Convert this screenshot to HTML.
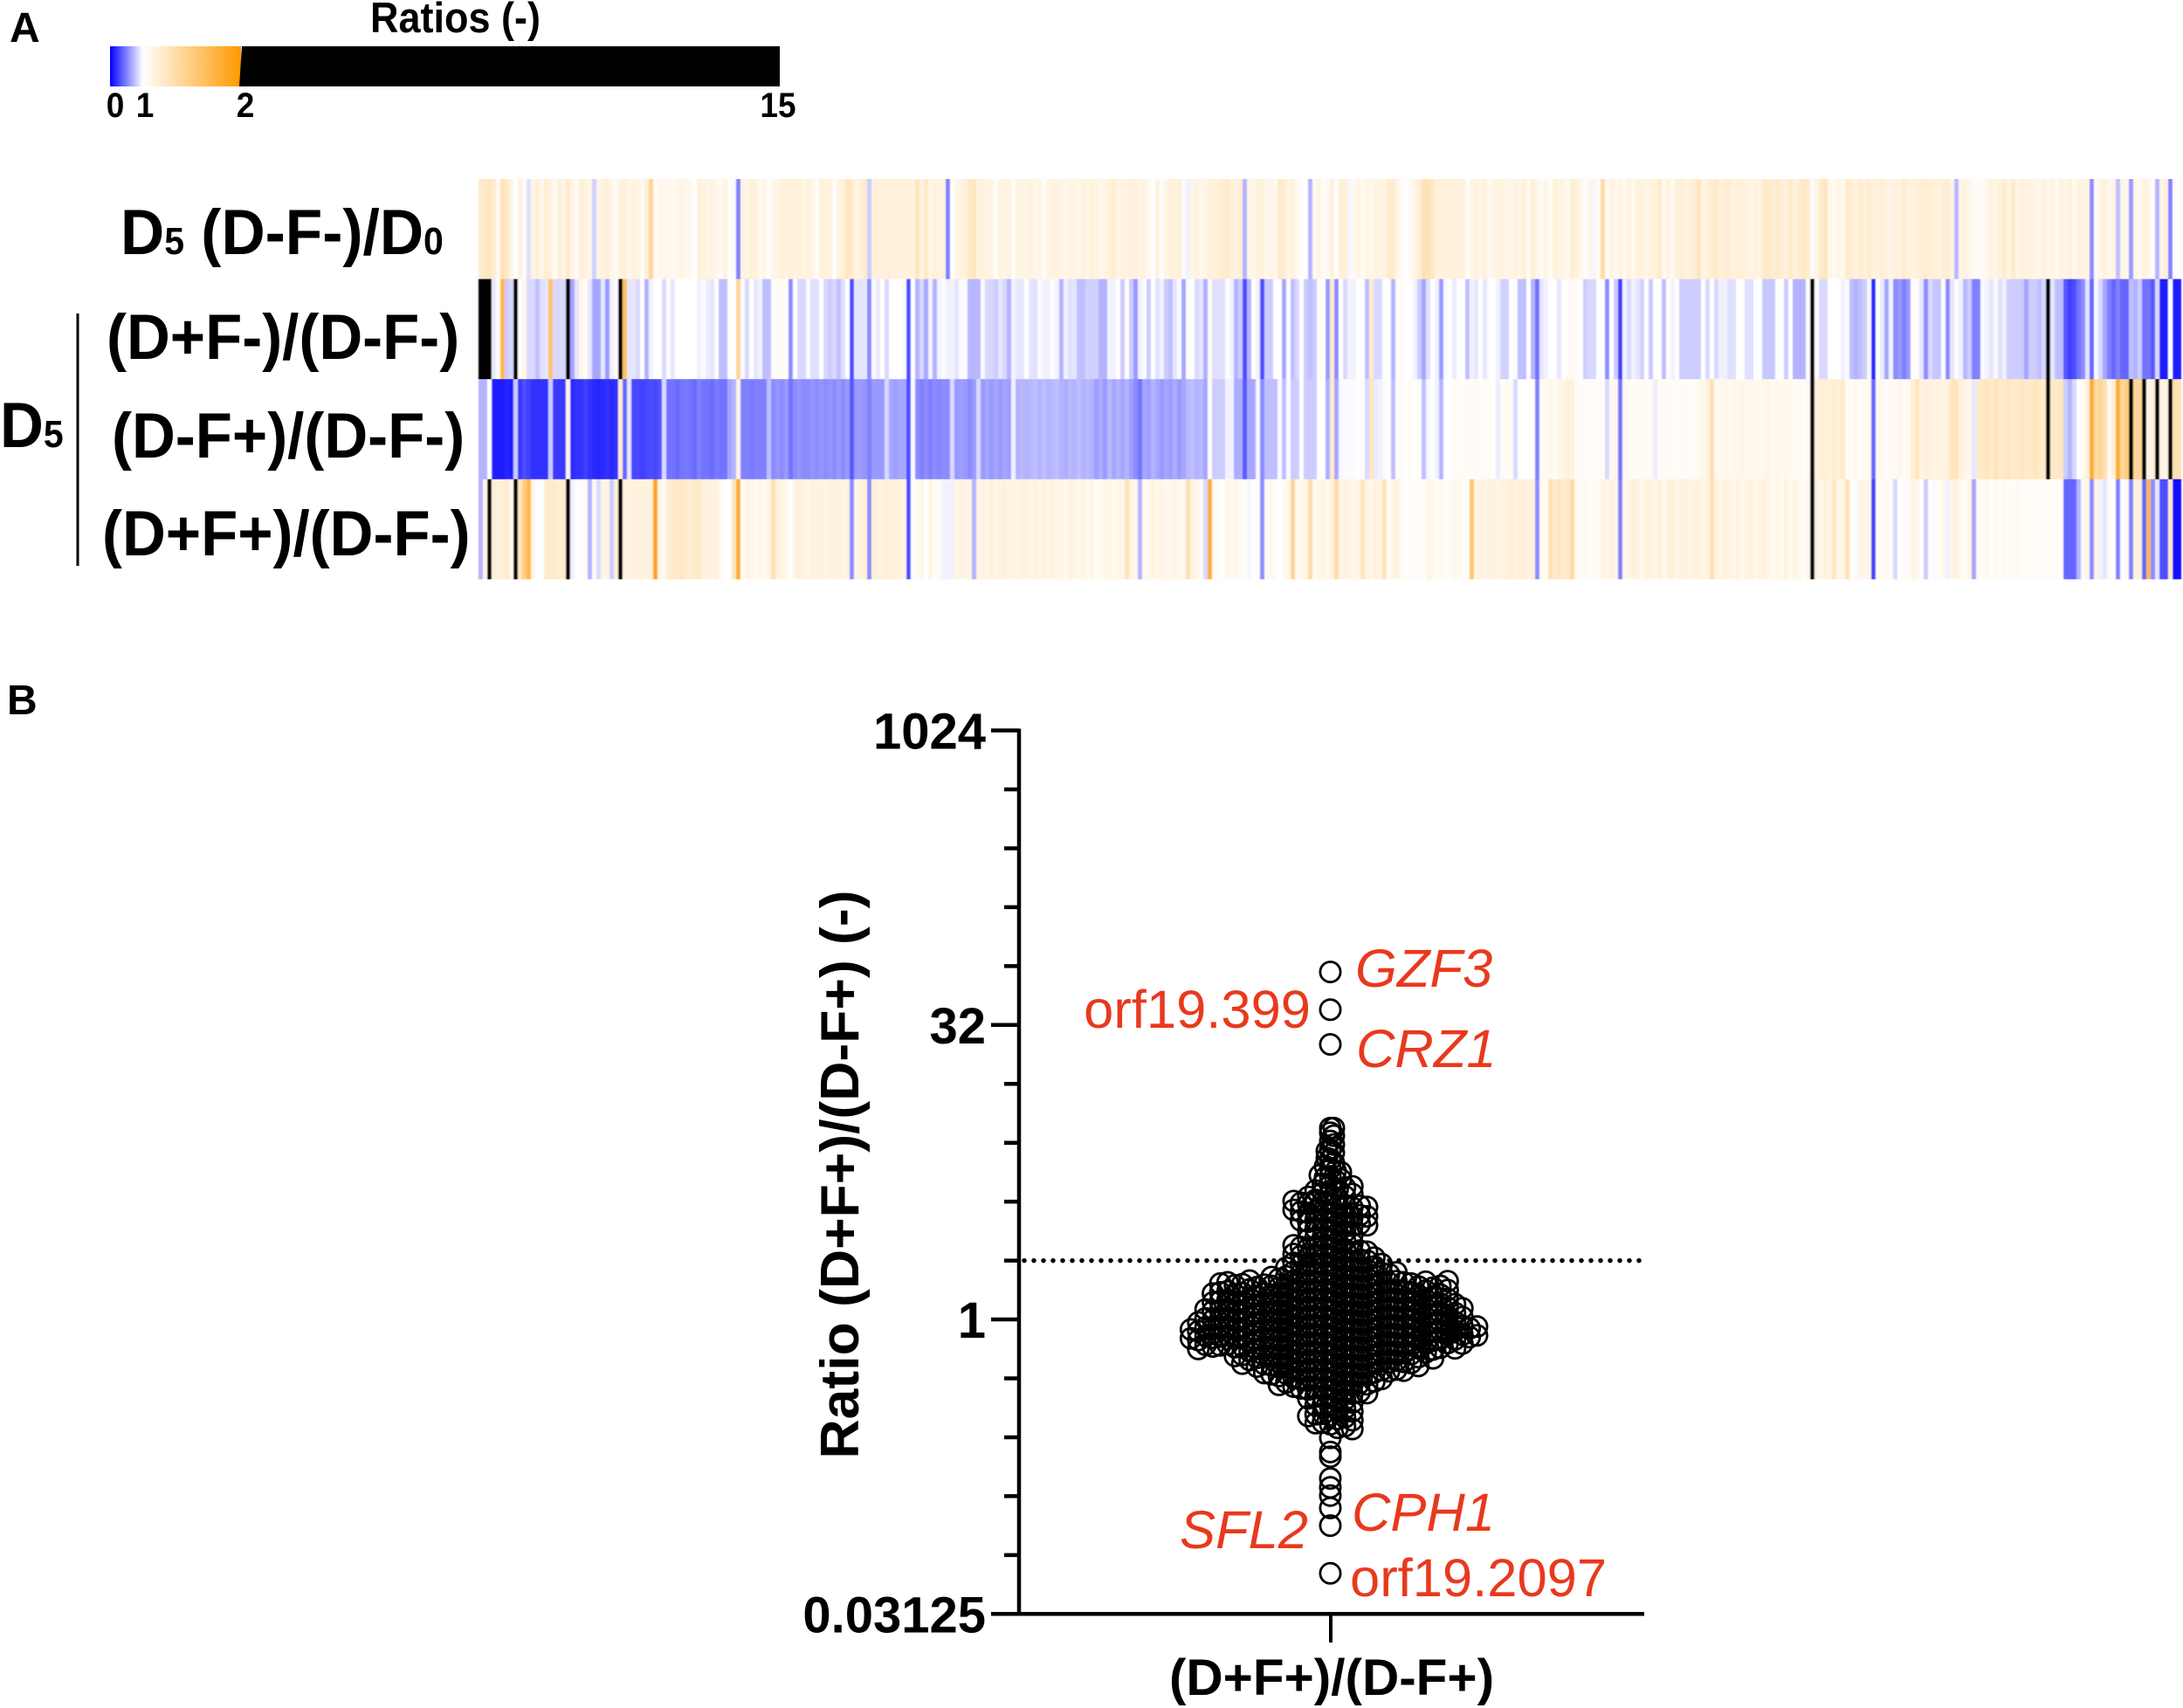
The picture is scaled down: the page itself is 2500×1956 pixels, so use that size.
<!DOCTYPE html>
<html lang="en">
<head>
<meta charset="utf-8">
<title>Heatmap and swarm plot of ratios</title>
<style>
html,body{margin:0;padding:0;background:#fff}
svg{display:block}
text{font-family:"Liberation Sans",Arial,sans-serif}
.b{font-weight:700;fill:#000}
.r{fill:#e8391d;font-size:61.5px}
.i{font-style:italic}
</style>
</head>
<body>
<svg id="figure" xmlns="http://www.w3.org/2000/svg" width="2500" height="1956" viewBox="0 0 2500 1956">
<defs>
<linearGradient id="scaleGradient" x1="0" x2="1" y1="0" y2="0">
<stop offset="0" stop-color="#0000ff"/><stop offset="0.25" stop-color="#ffffff"/><stop offset="1" stop-color="#ff9900"/>
</linearGradient>
<filter id="heatSoften" filterUnits="userSpaceOnUse" x="540" y="200" width="1965" height="470">
<feGaussianBlur stdDeviation="0.9 0"/>
</filter>
</defs>
<rect width="2500" height="1956" fill="#fff"/>

<text class="b" x="11" y="48" font-size="48">A</text>
<text class="b" x="8" y="818" font-size="48">B</text>

<text class="b" transform="translate(424 37) scale(1 1.1)" font-size="45">Ratios (-)</text>
<rect x="126" y="53" width="150" height="46" fill="url(#scaleGradient)"/>
<polygon points="277,53 893,53 893,99 274,99" fill="#000"/>
<g class="b" font-size="37" text-anchor="middle">
<text class="b" transform="translate(132 134) scale(1 1.08)">0</text>
<text class="b" transform="translate(166 134) scale(1 1.08)">1</text>
<text class="b" transform="translate(281 134) scale(1 1.08)">2</text>
<text class="b" transform="translate(891 134) scale(1 1.08)">15</text>
</g>

<g id="heatmap" filter="url(#heatSoften)"></g>

<text class="b" transform="translate(138 291) scale(1 1.06)" font-size="69.5">D<tspan font-size="41">5</tspan> (D-F-)/D<tspan font-size="41">0</tspan></text>
<text class="b" transform="translate(122 411) scale(1 1.06)" font-size="69">(D+F-)/(D-F-)</text>
<text class="b" transform="translate(128 524) scale(1 1.06)" font-size="69">(D-F+)/(D-F-)</text>
<text class="b" transform="translate(117 636) scale(1 1.06)" font-size="69">(D+F+)/(D-F-)</text>
<text class="b" transform="translate(0 512) scale(1 1.06)" font-size="69">D<tspan font-size="41">5</tspan></text>
<line x1="89" x2="89" y1="359" y2="648" stroke="#000" stroke-width="3"/>

<g id="swarmPlot"></g>

<text class="b" transform="translate(983,1345) rotate(-90)" text-anchor="middle" font-size="62.5">Ratio (D+F+)/(D-F+) (-)</text>
<text class="b" x="1525" y="1941" text-anchor="middle" font-size="58.5">(D+F+)/(D-F+)</text>

<text class="r i" x="1552" y="1130">GZF3</text>
<text class="r" x="1501" y="1177" text-anchor="end">orf19.399</text>
<text class="r i" x="1553" y="1222">CRZ1</text>
<text class="r i" x="1548" y="1753">CPH1</text>
<text class="r i" x="1351" y="1773">SFL2</text>
<text class="r" x="1546" y="1828">orf19.2097</text>
</svg>

<script>
// Heatmap values: ratio per gene column (values of 2 or more draw black)
const heatD5vsD0 = [
1.2,1.22,1.25,1.18,1.05,1.28,1.22,1.1,1.0,1.12,
1.02,.88,1.1,1.15,1.08,1.18,1.12,1.05,1.15,1.1,
1.2,1.1,1.05,1.15,1.12,1.1,.82,1.1,1.12,1.15,
1.08,1.05,1.12,1.15,1.1,1.12,1.1,1.05,1.15,1.4,
1.05,1.08,1.08,1.08,1.06,1.08,1.1,1.08,1.06,1.0,
1.15,1.12,1.1,1.12,1.08,1.05,1.12,1.02,.98,.5,
1.12,1.1,1.15,1.12,1.06,1.1,1.02,1.08,1.1,1.14,
1.12,1.14,1.12,1.14,1.1,1.14,1.1,1.02,1.14,1.12,
1.12,1.02,1.12,1.14,1.25,1.2,1.1,1.14,1.2,.8,
1.15,1.14,1.14,1.15,1.14,1.14,1.12,1.14,1.14,1.12,
1.25,1.12,1.22,1.1,1.14,1.12,1.12,.5,1.02,1.1,
1.12,1.14,1.22,1.25,1.12,1.14,1.1,1.1,1.02,1.12,
1.1,1.12,1.02,1.12,1.1,1.1,1.12,1.08,1.1,1.02,
1.1,1.12,1.12,1.1,1.08,1.1,1.1,1.08,1.12,1.1,
1.14,1.12,1.08,1.1,1.14,1.18,1.1,1.12,1.12,1.12,
1.14,1.1,1.12,1.06,1.0,1.12,1.02,1.1,1.14,1.12,
1.16,.98,.95,1.1,1.12,1.08,1.1,1.14,1.12,1.16,
1.18,1.2,1.14,1.12,1.16,.7,1.1,1.08,1.12,1.14,
1.08,1.1,1.06,1.22,1.18,1.1,1.14,1.06,1.02,1.0,
.7,1.06,1.1,1.04,1.06,1.14,1.02,1.16,1.16,.97,
1.06,1.1,1.06,1.1,1.08,1.12,1.1,1.1,1.2,1.18,
1.1,1.02,1.0,1.06,1.1,1.16,1.28,1.28,1.24,1.14,
1.14,1.12,1.14,1.14,1.12,1.14,1.02,1.1,1.12,1.1,
1.14,1.06,1.1,1.12,1.12,1.08,1.1,1.12,1.1,1.14,
1.06,1.18,1.08,1.05,1.1,1.02,1.14,1.12,1.1,1.06,
1.16,1.14,1.08,1.02,1.08,.96,1.05,1.35,1.06,1.12,
1.08,1.1,1.06,1.12,1.06,1.14,1.12,1.1,1.12,1.14,
1.2,1.06,1.12,1.05,1.14,1.16,1.12,1.14,1.18,1.25,
1.1,1.14,1.18,1.2,1.14,1.16,1.18,1.12,1.16,1.14,
1.12,1.1,1.12,1.1,1.2,1.22,1.18,1.2,1.16,1.14,
1.2,1.14,1.18,1.22,1.2,.98,1.1,1.2,1.25,1.08,
1.06,1.1,1.06,1.2,1.16,1.12,1.18,1.14,1.18,1.12,
1.14,1.16,1.12,1.1,1.14,1.12,1.18,1.14,1.12,1.14,
1.16,1.18,1.16,1.14,1.12,1.16,1.18,1.1,.72,1.1,
1.12,1.08,1.03,1.03,1.03,1.08,1.12,1.1,1.14,1.18,
1.1,1.2,1.1,1.14,1.12,1.12,1.1,1.08,1.12,1.08,
1.1,1.06,1.12,1.1,1.14,1.06,1.12,1.1,1.12,.55,
1.04,1.1,1.14,1.08,1.1,.75,1.1,1.08,.6,1.08,
1.06,1.12,1.1,1.02,.7,1.1,1.14,.5,1.02,1.02
];
const heatDpFm = [
5,5,5,.92,1.02,1.7,.8,.85,5,1.0,
1.1,.85,.85,.75,.88,.9,1.6,.85,.85,.85,
5,.65,.9,1.1,1.02,.9,.65,.65,.9,.6,
.95,.98,5,1.6,.9,.9,.85,1.0,.7,.95,
1.0,1.0,.85,1.0,.9,1.0,1.0,1.0,1.0,1.0,
.95,.98,.93,.9,1.0,.75,.75,1.0,1.0,1.4,
.98,.85,1.0,.9,.95,.75,.75,1.03,1.03,1.03,
1.03,.55,1.0,.85,.85,.98,.88,.88,1.0,.85,
.8,.85,.75,.88,1.0,.3,.9,.9,.9,.55,
.98,.92,1.0,.85,1.0,1.0,1.0,.98,.3,1.0,
.7,.85,.65,.95,.7,.95,.98,.95,.95,.9,
.98,.98,.72,.72,.72,.98,.85,.85,.8,.9,
.85,.7,.95,.9,.9,1.0,.9,.88,.98,.95,
.95,1.0,.95,.7,.95,.88,.9,.75,.75,.82,
.82,.82,.7,.7,.95,.95,1.0,.8,1.02,.8,
.6,.95,.98,.8,1.0,.88,.95,.8,.75,.9,
.98,.65,1.02,1.0,.85,.9,.68,1.05,.88,.88,
.88,1.0,.95,.7,.8,.3,.7,1.0,.95,.3,
.8,.8,1.0,1.0,.65,1.0,.75,.85,1.0,.8,
.75,.8,1.02,1.02,.6,1.2,.55,1.0,.85,.95,
.95,1.0,1.0,.75,1.2,.85,.85,1.0,1.0,.7,
1.02,1.02,1.0,1.0,.95,.8,.65,.88,1.0,.95,
.6,.98,1.0,.92,1.0,1.0,.75,.95,.9,1.0,
.9,1.0,1.0,.95,.82,.82,1.0,.98,.75,.75,
1.0,.7,.45,.9,.95,1.0,1.0,.9,1.0,1.03,
1.05,1.03,1.0,.8,.85,.85,1.0,1.0,.55,1.0,
.8,.25,.95,.85,.95,.9,.82,1.0,.8,1.0,
1.0,.75,1.0,.95,1.0,.8,.8,.8,.8,.8,
1.0,.85,1.0,.85,.95,.95,.88,.88,1.0,1.0,
.88,.88,1.0,1.0,.78,.78,.78,1.0,1.0,.8,
1.0,.7,.7,.7,1.0,5,1.0,.85,.85,1.0,
1.0,1.0,.95,.98,.75,.7,.75,.8,.98,.15,
1.0,.92,.65,.95,.55,.6,.5,.6,1.02,1.02,
.9,.55,.85,.78,.78,1.02,.55,.9,1.02,.95,
.72,.8,.5,.5,.98,.95,.9,.98,.88,.95,
.8,.8,.8,.8,.65,.8,.8,.75,.85,5,
.9,.75,.75,.35,.25,.3,.45,.55,.9,.4,
.98,.85,.65,.5,.4,.5,.4,.4,.75,.7,
.8,.45,.45,.35,.85,.1,.1,1.0,.1,.1
];
const heatDmFp = [
.7,.7,1.0,.1,.1,.1,.15,.1,.8,.22,
.3,.25,.2,.2,.2,.2,.8,.22,.22,.22,
1.1,.17,.2,.2,.25,.2,.17,.15,.17,.2,
.17,.2,1.2,.4,.9,.28,.28,.25,.28,.3,
.28,.32,.85,.45,.45,.42,.45,.47,.45,.42,
.5,.45,.45,.42,.47,.45,.45,.65,.7,1.1,
.5,.5,.48,.5,.5,.5,.75,.55,.58,.55,
.6,.45,.55,.58,.55,.55,.58,.55,.58,.55,
.58,.55,.6,.55,.6,.35,.6,.6,.58,.5,
.6,.6,.6,.85,.65,.62,.65,.65,.3,.98,
.55,.5,.55,.5,.55,.52,.55,.55,.85,.6,
.62,.6,.55,.6,.85,.6,.65,.6,.65,.6,
.65,.62,.95,.7,.72,.7,.72,.75,.7,.75,
.7,.72,.75,.7,.68,.72,.7,.75,.7,.72,
.7,.62,.68,.6,.72,.65,.7,.65,.7,.62,
.55,.45,.65,.62,.7,.65,.6,.65,.62,.68,
.6,.65,.72,.75,.7,.72,.65,1.03,.8,.8,
.8,.95,.95,.68,.68,.35,.65,.65,.97,.55,
.75,.75,.75,.98,.75,.98,.8,.8,1.0,.8,
.8,.8,1.0,1.0,.68,1.2,.65,.97,.98,.98,
.98,1.0,.98,.85,1.25,.92,.95,.98,1.0,.75,
1.02,1.02,1.0,1.03,1.0,1.03,.75,.97,1.0,.95,
.7,1.0,1.0,1.03,1.03,1.02,1.03,1.04,1.03,1.02,
1.03,1.04,1.0,.93,1.03,1.05,1.02,.85,1.0,1.0,
1.0,1.02,.5,1.05,1.06,1.08,1.05,1.08,1.1,1.15,
1.12,1.03,1.03,1.02,1.03,1.02,1.03,1.03,.85,1.06,
1.08,.45,1.06,1.04,1.03,1.04,1.03,1.04,1.03,.93,
1.03,1.05,1.04,1.03,1.02,1.04,1.03,1.02,1.03,1.05,
1.08,1.12,1.3,1.06,1.07,1.08,1.06,1.08,1.07,1.09,
1.06,1.08,1.07,1.06,1.08,1.09,1.05,1.07,1.05,1.08,
1.06,1.03,1.05,1.04,1.06,5,1.12,1.15,1.16,1.14,
1.18,1.15,1.2,1.05,1.03,1.06,1.02,1.05,1.08,.4,
1.06,1.08,1.02,1.06,1.04,1.08,1.05,1.06,1.15,1.25,
1.12,1.15,1.12,1.1,1.12,1.1,1.14,1.25,1.25,1.12,
1.1,1.08,.9,1.2,1.22,1.25,1.2,1.28,1.2,1.22,
1.25,1.2,1.22,1.25,1.2,1.22,1.25,1.22,1.2,5,
1.22,1.2,1.25,.8,.7,.85,1.0,1.05,1.15,1.8,
1.35,1.4,1.3,1.05,1.15,1.8,1.4,1.5,5,1.4,
1.4,5,1.1,1.15,5,1.1,1.1,5,1.3,1.3
];
const heatDpFp = [
.7,1.1,5,1.15,1.15,1.15,1.2,1.05,5,1.25,
1.5,1.7,1.1,1.0,1.0,1.2,1.2,1.2,1.18,1.2,
5,.95,1.0,1.0,1.05,.7,1.05,.85,1.1,1.1,
.8,1.15,5,1.12,1.12,1.14,1.12,1.14,1.12,1.14,
1.9,1.1,1.05,1.18,1.22,1.2,1.25,1.2,1.18,1.2,
1.22,1.12,1.14,1.12,1.14,1.05,1.0,1.0,1.25,1.8,
1.03,1.12,1.08,1.06,1.08,1.06,1.1,1.3,1.12,1.1,
1.08,1.0,1.12,1.14,1.12,1.1,1.14,1.12,1.14,1.1,
1.12,1.14,1.12,1.1,1.12,.55,1.1,1.12,1.14,.55,
1.15,1.12,1.14,1.16,1.15,1.14,1.12,1.1,.3,1.02,
1.03,1.1,1.0,1.1,1.03,1.05,.95,.95,.95,1.1,
1.12,1.1,1.1,.7,1.1,1.12,1.1,1.14,1.1,1.12,
1.14,1.1,1.12,1.1,1.14,1.12,1.1,1.14,1.1,1.12,
1.1,1.12,1.08,1.1,1.06,1.12,1.1,1.08,1.1,1.06,
1.1,1.02,1.06,1.08,1.1,1.06,1.1,1.08,1.28,1.1,
1.08,.7,1.06,1.08,1.12,1.08,1.1,1.06,1.08,1.1,
1.08,1.06,1.3,1.12,1.1,1.03,.85,1.8,1.06,1.02,
1.0,1.08,1.06,1.08,1.04,1.02,.97,1.0,1.03,.55,
1.06,1.08,1.03,1.0,1.06,1.08,1.4,1.06,1.08,1.1,
1.35,1.06,1.08,1.1,1.06,1.12,1.35,1.1,1.12,1.1,
1.08,1.1,1.25,1.12,1.08,1.14,1.1,1.28,1.03,1.1,
1.12,1.03,1.0,1.02,1.04,1.03,1.02,1.1,1.08,1.03,
1.06,1.02,1.04,1.08,1.06,1.02,1.03,1.55,1.1,1.12,
1.1,1.12,1.14,1.1,1.12,1.14,1.16,1.12,1.14,1.16,
1.12,1.14,.55,1.06,1.04,1.3,1.2,1.25,1.2,1.22,
1.35,1.06,1.03,1.06,1.03,1.04,1.03,1.12,1.08,1.12,
1.1,.5,1.08,1.1,1.14,1.12,1.06,1.14,1.12,1.1,
1.14,1.06,1.12,1.14,1.08,1.12,1.14,1.1,1.12,1.14,
1.1,1.12,1.3,1.12,1.1,1.14,1.12,1.08,1.12,1.06,
1.12,1.14,1.08,1.12,1.14,1.1,1.04,1.1,1.06,1.12,
1.05,1.1,1.06,1.02,1.08,5,1.12,1.08,1.14,1.1,
1.25,1.08,1.1,1.3,1.02,.98,1.1,1.08,1.1,.25,
1.06,1.03,1.08,1.02,.85,1.0,1.03,1.02,1.1,1.08,
1.0,.8,1.02,.98,1.04,1.08,.95,1.1,1.12,1.06,
1.04,1.1,.65,1.06,1.04,1.08,1.02,1.06,1.04,1.06,
1.04,1.02,1.06,1.03,1.02,1.03,1.02,1.03,1.02,1.03,
1.02,1.03,1.02,.4,.4,.4,.7,.98,1.1,.55,
1.1,.95,.9,1.05,1.0,.5,1.0,1.06,.5,1.12,
1.15,.4,1.7,.55,.9,.3,.3,1.2,.05,.05
];
const heatRows = [heatD5vsD0, heatDpFm, heatDmFp, heatDpFp];
const heatRowNames = ['d5-over-d0', 'd-plus-f-minus', 'd-minus-f-plus', 'd-plus-f-plus'];

// Swarm values: log2 of ratio per gene
const log2Ratios = [
5.9,5.26,4.67,
3.25,3.25,
3.17,3.12,
3.03,2.97,
2.88,2.83,2.86,
2.72,2.66,2.74,
2.57,2.52,2.6,2.5,
2.43,2.36,2.41,2.38,2.45,
2.28,2.21,2.3,2.24,2.19,2.26,
2.12,2.06,2.15,2.09,2.03,2.13,2.08,
1.97,1.92,2.0,1.94,1.99,1.9,1.96,1.93,1.98,1.91,2.01,
1.82,1.76,1.85,1.79,1.84,1.74,1.81,1.77,1.83,1.75,1.86,
1.67,1.61,1.7,1.64,1.69,1.59,1.66,1.62,1.68,1.6,
1.52,1.46,1.55,1.49,1.54,1.44,1.51,
1.37,1.31,1.4,1.34,1.39,1.29,1.36,
1.22,1.16,1.25,1.19,1.24,1.14,1.21,1.17,1.23,1.15,1.26,
1.07,1.01,1.1,1.04,1.09,.99,1.06,1.02,1.08,1.0,1.11,1.05,
.92,.86,.95,.89,.94,.84,.91,.87,.93,.85,.96,.9,.88,.94,
.77,.71,.8,.74,.79,.69,.76,.72,.78,.7,.81,.75,.73,.79,.69,.77,.72,.8,
.62,.56,.65,.59,.64,.54,.61,.57,.63,.55,.66,.6,.58,.64,.54,.62,.57,.65,.59,.63,.55,.61,.66,.56,.6,.64,.58,.54,.63,.57,.61,.65,
.47,.41,.5,.44,.49,.39,.46,.42,.48,.4,.51,.45,.43,.49,.39,.47,.42,.5,.44,.48,.4,.46,.51,.41,.45,.49,.43,.39,.48,.42,.46,.5,.44,
.32,.26,.35,.29,.34,.24,.31,.27,.33,.25,.36,.3,.28,.34,.24,.32,.27,.35,.29,.33,.25,.31,.36,.26,.3,.34,.28,.24,.33,.27,.31,.35,.29,.26,
.17,.11,.2,.14,.19,.09,.16,.12,.18,.1,.21,.15,.13,.19,.09,.17,.12,.2,.14,.18,.1,.16,.21,.11,.15,.19,.13,.09,.18,.12,.16,.2,.14,.11,.17,.19,
.02,-.04,.05,-.01,.04,-.06,.01,-.03,.03,-.05,.06,0,-.02,.04,-.06,.02,-.03,.05,-.01,.03,-.05,.01,.06,-.04,0,.04,-.02,-.06,.03,-.03,.01,.05,-.01,-.04,.02,.04,-.05,
-.13,-.19,-.1,-.16,-.11,-.21,-.14,-.18,-.12,-.2,-.09,-.15,-.17,-.11,-.21,-.13,-.18,-.1,-.16,-.12,-.2,-.14,-.09,-.19,-.15,-.11,-.17,-.21,-.12,-.18,-.14,-.1,-.16,-.19,-.13,-.11,-.2,-.15,-.17,-.12,
-.28,-.34,-.25,-.31,-.26,-.36,-.29,-.33,-.27,-.35,-.24,-.3,-.32,-.26,-.36,-.28,-.33,-.25,-.31,-.27,-.35,-.29,-.24,-.34,-.3,-.26,-.32,-.36,-.27,-.33,-.29,-.25,-.31,-.34,-.28,-.26,-.35,-.3,-.32,-.27,
-.43,-.49,-.4,-.46,-.41,-.51,-.44,-.48,-.42,-.5,-.39,-.45,-.47,-.41,-.51,-.43,-.48,-.4,-.46,-.42,-.5,-.44,-.39,-.49,-.45,-.41,-.47,-.51,-.42,-.48,-.44,-.4,-.46,-.49,-.43,-.41,-.5,
-.58,-.64,-.55,-.61,-.56,-.66,-.59,-.63,-.57,-.65,-.54,-.6,-.62,-.56,-.66,-.58,-.63,-.55,-.61,-.57,-.65,-.59,-.54,-.64,-.6,-.56,-.62,-.66,
-.73,-.79,-.7,-.76,-.71,-.81,-.74,-.78,-.72,-.8,-.69,-.75,-.77,-.71,-.81,-.73,-.78,-.7,-.76,-.72,-.8,-.74,-.69,-.79,-.75,
-.88,-.94,-.85,-.91,-.86,-.96,-.89,-.93,-.87,-.95,-.84,-.9,-.92,-.86,-.96,-.88,-.93,-.85,-.91,-.87,
-1.03,-1.09,-1.0,-1.06,-1.01,-1.11,-1.04,-1.08,-1.02,-1.1,-.99,-1.05,-1.07,-1.01,-1.11,
-1.18,-1.24,-1.15,-1.21,-1.16,-1.26,-1.19,-1.23,-1.17,-1.25,-1.14,
-1.33,-1.39,-1.3,-1.36,-1.31,-1.41,-1.34,
-1.48,-1.54,-1.45,-1.51,-1.46,-1.56,
-1.63,-1.69,-1.6,-1.66,-1.61,-1.71,-1.64,
-1.78,-1.84,-1.75,-1.81,-1.76,-1.86,
-2.01,-2.25,-2.33,-2.7,-2.85,-2.99,-3.2,-3.5,-4.31
];
const yTickExponents = [-5,-4,-3,-2,-1,0,1,2,3,4,5,6,7,8,9,10];
const yTickLabels = {'-5':'0.03125','0':'1','5':'32','10':'1024'};
const thresholdRatio = 2;

const SVGNS = 'http://www.w3.org/2000/svg';
function mk(tag, attrs) {
  const el = document.createElementNS(SVGNS, tag);
  for (const k in attrs) el.setAttribute(k, attrs[k]);
  return el;
}

// Heatmap
const heatLeft = 548, heatRight = 2498, heatTop = 205, heatRowH = 114.6;
function heatColor(v) {
  if (v >= 2) return '#000000';
  if (v < 1) {
    const c = Math.round(255 * Math.max(v, 0));
    return 'rgb(' + c + ',' + c + ',255)';
  }
  const t = v - 1;
  return 'rgb(255,' + Math.round(255 - 102 * t) + ',' + Math.round(255 - 255 * t) + ')';
}
const heatG = document.getElementById('heatmap');
heatRows.forEach(function (row, r) {
  const colW = (heatRight - heatLeft) / row.length;
  row.forEach(function (v, c) {
    const cell = mk('rect', {
      x: heatLeft + c * colW,
      y: heatTop + r * heatRowH,
      width: colW + (c < row.length - 1 ? 0.4 : 0),
      height: heatRowH + (r < heatRows.length - 1 ? 0.3 : 0),
      fill: heatColor(v)
    });
    
    
    heatG.appendChild(cell);
  });
});

// Swarm plot
const axisX = 1167, axisRight = 1883, axisBottom = 1848.3, unitPx = 67.45, centerX = 1523.5;
function yScale(exp) { return axisBottom - (exp + 5) * unitPx; }
const swarm = document.getElementById('swarmPlot');

const dotted = mk('line', {
  x1: axisX + 6, x2: axisRight + 2,
  y1: yScale(Math.log2(thresholdRatio)), y2: yScale(Math.log2(thresholdRatio)),
  stroke: '#000', 'stroke-width': 5.5, 'stroke-linecap': 'round', 'stroke-dasharray': '0 11'
});


swarm.appendChild(dotted);

const binWidth = 0.15;
function binOf(v) { return Math.round(v / binWidth); }
function spacingFor(total) { return total <= 3 ? 4 : (total <= 5 ? 6 : 8.4); }
const binTotals = {};
log2Ratios.forEach(function (v) {
  const bin = binOf(v);
  binTotals[bin] = (binTotals[bin] || 0) + 1;
});
const binCounts = {};
log2Ratios.forEach(function (v) {
  const bin = binOf(v);
  const n = binCounts[bin] || 0;
  binCounts[bin] = n + 1;
  const step = Math.ceil(n / 2) * spacingFor(binTotals[bin]);
  const off = n % 2 === 1 ? step : -step;
  const pt = mk('circle', {
    cx: centerX + off, cy: yScale(v), r: 11.6,
    fill: 'none', stroke: '#000', 'stroke-width': 2.8
  });
  
  
  swarm.appendChild(pt);
});

const yAxis = mk('line', {x1: axisX, x2: axisX, y1: yScale(10) - 2, y2: axisBottom + 2, stroke: '#000', 'stroke-width': 4.5});


swarm.appendChild(yAxis);

const xAxis = mk('line', {x1: 1135, x2: axisRight, y1: axisBottom, y2: axisBottom, stroke: '#000', 'stroke-width': 4.5});


swarm.appendChild(xAxis);

const xTick = mk('line', {x1: 1524, x2: 1524, y1: axisBottom, y2: 1881, stroke: '#000', 'stroke-width': 4});


swarm.appendChild(xTick);

yTickExponents.forEach(function (e) {
  const label = yTickLabels[String(e)];
  const tick = mk('line', {
    x1: label ? 1135 : 1150, x2: axisX, y1: yScale(e), y2: yScale(e),
    stroke: '#000', 'stroke-width': 4.5
  });
  
  
  swarm.appendChild(tick);
  if (label) {
    const t = mk('text', {x: 1129, y: yScale(e) + 21, 'text-anchor': 'end', 'font-size': 58, 'class': 'b'});
    t.textContent = label;
    
    
    swarm.appendChild(t);
  }
});
</script>
</body>
</html>
